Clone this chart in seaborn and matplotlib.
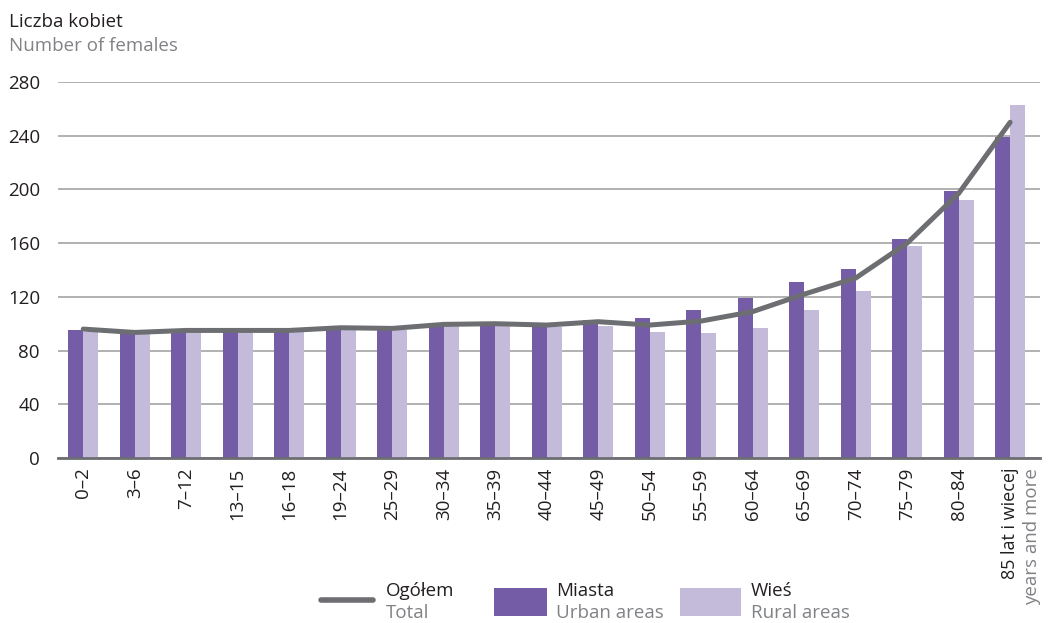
import numpy as np
import pandas as pd
import matplotlib
matplotlib.use("Agg")
import matplotlib.pyplot as plt
import seaborn as sns
from matplotlib.patches import Rectangle
from matplotlib.transforms import blended_transform_factory

# data (females per 100 males)
age_groups = ["0–2", "3–6", "7–12", "13–15", "16–18", "19–24", "25–29", "30–34",
              "35–39", "40–44", "45–49", "50–54", "55–59", "60–64", "65–69",
              "70–74", "75–79", "80–84", "85 lat i wiecej"]
urban = [95, 93, 94, 94, 94, 96, 95, 98, 99, 98, 103, 104, 110, 119, 131, 141, 163, 199, 239]
rural = [94, 92, 94, 93.5, 93.5, 95, 95, 98, 98, 97.5, 98, 93.5, 93, 96.5, 110, 124, 158, 192, 263]
total = [96, 93.5, 95, 95, 95, 97, 96.5, 99.5, 100, 99, 101.5, 99, 102, 109, 122, 134, 160, 197, 250]
yticks = [0, 40, 80, 120, 160, 200, 240, 280]

URBAN_C = "#745DA6"
RURAL_C = "#C4BBDA"
LINE_C = "#6D6E71"
GRAY_TXT = "#808285"
FS = 13.5

sns.set_theme(style="white")
plt.rcParams['font.family'] = ['Open Sans', 'DejaVu Sans']
plt.rcParams['font.size'] = FS

df = pd.DataFrame({
    "age": age_groups * 2,
    "value": urban + rural,
    "area": ["Miasta"] * len(age_groups) + ["Wieś"] * len(age_groups),
})

W, H = 1049, 623
fig = plt.figure(figsize=(W / 100, H / 100), dpi=100)
ax = fig.add_axes([58 / W, 1 - 458 / H, (1040 - 58) / W, (458 - 82) / H])

sns.barplot(data=df, x="age", y="value", hue="area", order=age_groups,
            palette={"Miasta": URBAN_C, "Wieś": RURAL_C}, width=0.58,
            saturation=1, legend=False, ax=ax, linewidth=0)
sns.lineplot(x=np.arange(len(age_groups)), y=total, color=LINE_C, linewidth=3.6,
             ax=ax, solid_capstyle="round", solid_joinstyle="round", zorder=5)

ax.set_xlim(-0.49, 18.58)
ax.set_ylim(0, 280)
ax.set_yticks(yticks)
ax.set_yticklabels([str(t) for t in yticks], fontsize=FS)
ax.yaxis.grid(True, color="#ABABAB", linewidth=1.3)
ax.set_axisbelow(True)
ax.tick_params(axis="y", length=0, pad=13, labelcolor="#231F20")
ax.tick_params(axis="x", length=0, pad=7, labelcolor="#231F20")
ax.set_xticks(range(len(age_groups)))
ax.set_xticklabels(age_groups, rotation=90, fontsize=FS)
ax.get_xticklabels()[-1].set_fontsize(13)
ax.set_xlabel("")
ax.set_ylabel("")
for s in ["top", "right", "left"]:
    ax.spines[s].set_visible(False)
ax.spines["bottom"].set_color("#6D6E71")
ax.spines["bottom"].set_linewidth(2)

# second line of the last tick label
trans = blended_transform_factory(ax.transData, ax.transAxes)
ax.text(len(age_groups) - 1 + 0.43, -0.027, "years and more", transform=trans,
        rotation=90, ha="center", va="top", color=GRAY_TXT, fontsize=FS)

# axis title
fig.text(9 / W, 1 - 22 / H, "Liczba kobiet", va="center", ha="left",
         fontsize=FS, color="#231F20")
fig.text(9 / W, 1 - 46 / H, "Number of females", va="center", ha="left",
         fontsize=FS, color=GRAY_TXT)

# legend drawn in pixel space
lax = fig.add_axes([0, 0, 1, 1])
lax.set_xlim(0, W)
lax.set_ylim(H, 0)
lax.axis("off")
lax.plot([321, 373], [600, 600], color=LINE_C, linewidth=4, solid_capstyle="round")
lax.add_patch(Rectangle((494, 588), 53, 28, color=URBAN_C, linewidth=0))
lax.add_patch(Rectangle((680, 588), 61, 28, color=RURAL_C, linewidth=0))
legend_items = [(386, "Ogółem", "Total"), (556, "Miasta", "Urban areas"),
                (751, "Wieś", "Rural areas")]
for x, top, bottom in legend_items:
    lax.text(x, 591, top, va="center", ha="left", fontsize=FS, color="#231F20")
    lax.text(x, 613, bottom, va="center", ha="left", fontsize=FS, color=GRAY_TXT)

fig.savefig("out.png", dpi=100)
